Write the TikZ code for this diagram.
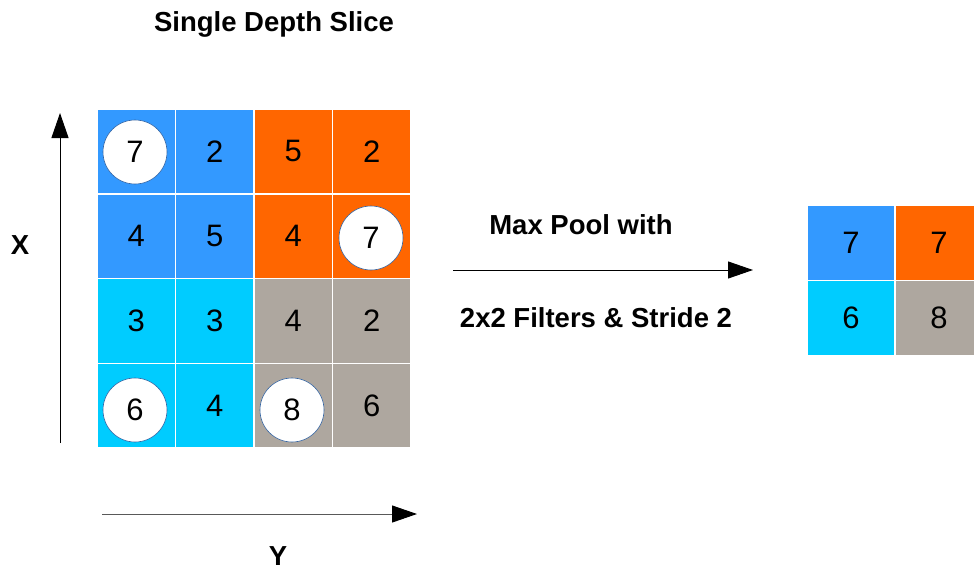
\documentclass[tikz,border=0pt]{standalone}
\usepackage{fontspec}
\setmainfont{Liberation Sans}
\usetikzlibrary{arrows.meta}
\definecolor{cblue}{HTML}{3399FF}
\definecolor{corange}{HTML}{FF6600}
\definecolor{ccyan}{HTML}{00CCFF}
\definecolor{cgray}{HTML}{AEA79F}
\definecolor{cring}{HTML}{3465A4}
\tikzset{
  cell/.style={draw=white, line width=1.5pt, inner sep=0pt, minimum width=78.5pt, minimum height=84.75pt, font=\fontsize{31}{31}\selectfont},
  ocell/.style={draw=white, line width=1.5pt, inner sep=0pt, minimum width=88pt, minimum height=75.5pt, font=\fontsize{31}{31}\selectfont},
  ring/.style={circle, draw=cring, line width=0.6pt, fill=white, minimum size=64pt, inner sep=0pt, font=\fontsize{31}{31}\selectfont},
  lbl/.style={font=\bfseries\fontsize{27.5}{27.5}\selectfont, inner sep=0pt},
  arr/.style={line width=1pt, -{Triangle[length=25pt, width=17pt, black]}}
}
\begin{document}
\begin{tikzpicture}[x=1pt, y=-1pt]
\useasboundingbox (0,0) rectangle (974,570);
\fill[white] (0,0) rectangle (974,570);
% input grid
\def\cw{78.5}\def\ch{84.75}
\foreach \r/\c/\v/\col in {1/1//cblue,1/2/2/cblue,1/3/5/corange,1/4/2/corange,
  2/1/4/cblue,2/2/5/cblue,2/3/4/corange,2/4//corange,
  3/1/3/ccyan,3/2/3/ccyan,3/3/4/cgray,3/4/2/cgray,
  4/1//ccyan,4/2/4/ccyan,4/3//cgray,4/4/6/cgray}{
  \node[cell, fill=\col] (c\r\c) at ({97+(\c-0.5)*\cw},{109+(\r-0.5)*\ch}) {\v};
}
% highlighted maxima
\node[ring] (m1) at (135,152) {7};
\node[ring] (m2) at (371,238) {7};
\node[ring] (m3) at (135,410) {6};
\node[ring] (m4) at (292,410) {8};
% output grid
\node[ocell, fill=cblue] (o11) at (851,242.5) {7};
\node[ocell, fill=corange] (o12) at (939,242.5) {7};
\node[ocell, fill=ccyan] (o21) at (851,318) {6};
\node[ocell, fill=cgray] (o22) at (939,318) {8};
% labels
\node[lbl] (title) at (274,24) {Single Depth Slice};
\node[lbl] (xl) at (20,245) {X};
\node[lbl] (yl) at (278,556) {Y};
\node[lbl] (mp) at (581,225) {Max Pool with};
\node[lbl] (fs) at (596,318) {2x2 Filters \& Stride 2};
% arrows
\coordinate (xa) at (60,443);
\coordinate (xb) at (60,113);
\draw[arr] (xa) -- (xb);
\coordinate (ya) at (102,514);
\coordinate (yb) at (417,514);
\draw[arr, draw=black!65] (ya) -- (yb);
\coordinate (pa) at (453,270);
\coordinate (pb) at (753,270);
\draw[arr] (pa) -- (pb);
\end{tikzpicture}
\end{document}
